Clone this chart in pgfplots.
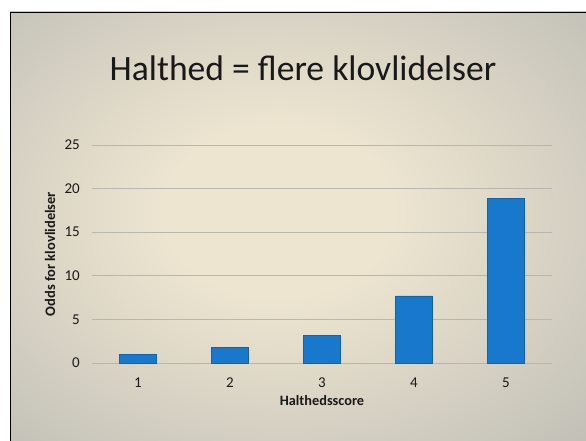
\documentclass[border=0pt]{standalone}
\usepackage{pgfplots}
\pgfplotsset{compat=1.18}
\usepackage{fontspec}
\setmainfont{Carlito}
\definecolor{bgin}{RGB}{237,229,208}
\definecolor{bgmid}{RGB}{200,197,187}
\definecolor{bgout}{RGB}{163,163,161}
\definecolor{barblue}{RGB}{24,120,204}
\definecolor{baredge}{RGB}{20,98,172}
\definecolor{gridc}{RGB}{184,182,176}
\definecolor{txt}{RGB}{25,25,25}
\pgfdeclareradialshading{slide}{\pgfpoint{-2bp}{2bp}}{color(0bp)=(bgin); color(10bp)=(bgin); color(33bp)=(bgmid); color(56bp)=(bgout); color(75bp)=(bgout)}
\pgfplotstableread{
x y
1 1.0
2 1.8
3 3.2
4 7.7
5 18.9
}\oddsdata
\begin{document}
\begin{tikzpicture}
\fill[white] (0pt,0pt) rectangle (586pt,441pt);
\useasboundingbox (0pt,0pt) rectangle (586pt,441pt);
\shade[shading=slide] (10pt,0pt) rectangle (586pt,429pt);
\draw[black, line width=1.5pt] (10.5pt,0pt) -- (10.5pt,428.5pt) -- (586pt,428.5pt);
\node[text=txt, font=\fontsize{35.6}{42}\selectfont] at (303pt,373pt) {Halthed = flere klovlidelser};
\begin{axis}[
  at={(92pt,78pt)}, anchor=south west,
  scale only axis, width=460pt, height=218pt,
  xmin=0.5, xmax=5.5, ymin=0, ymax=25,
  axis line style={draw=none},
  xtick={1,2,3,4,5}, ytick={0,5,10,15,20,25},
  major tick length=0pt,
  ymajorgrids, grid style={gridc, line width=0.7pt},
  /pgf/number format/assume math mode=true,
  tick label style={text=txt, font=\fontsize{15}{17}\selectfont},
  xticklabel style={anchor=center, yshift=-20pt},
  yticklabel style={anchor=east, inner sep=0pt, xshift=-12pt},
  xlabel={Halthedsscore}, ylabel={Odds for klovlidelser},
  xlabel style={at={(axis description cs:0.5,-0.17)}, anchor=center, text=txt, font=\bfseries\fontsize{14.3}{16}\selectfont},
  ylabel style={at={(axis description cs:-0.0913,0.5)}, anchor=center, text=txt, font=\bfseries\fontsize{14.5}{16}\selectfont},
  clip=false,
]
\draw[gridc, line width=0.7pt] (axis cs:0.5,0) -- (axis cs:5.5,0);
\addplot[ybar, bar width=0.4, fill=barblue, draw=baredge, line width=0.6pt] table[x=x,y=y] {\oddsdata};
\end{axis}
\end{tikzpicture}
\end{document}
